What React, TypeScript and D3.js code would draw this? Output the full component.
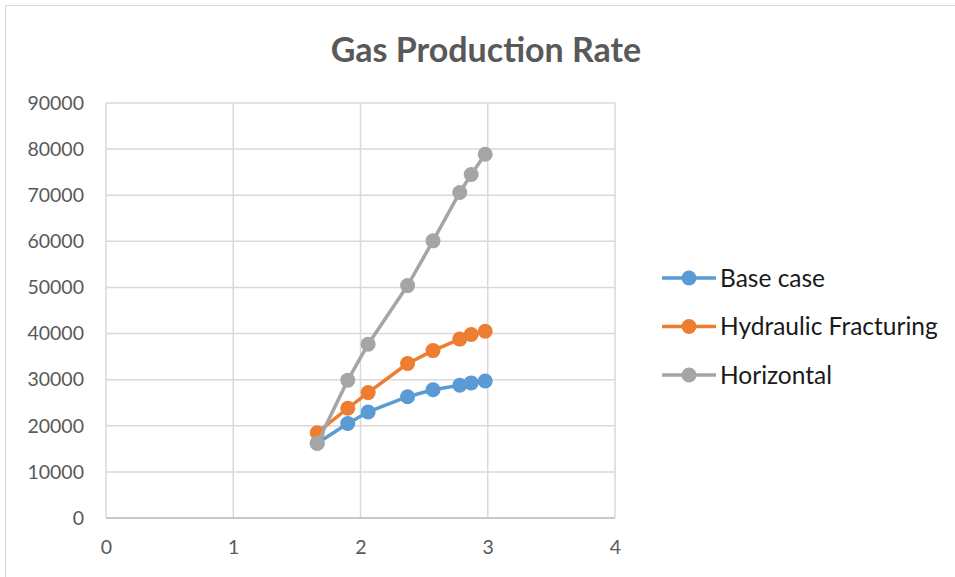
import { axisBottom, axisLeft, line, scaleLinear, select } from "d3";
import { useEffect, useRef } from "react";

const seriesNames = ["Base case", "Hydraulic Fracturing", "Horizontal"];
const seriesColors = ["#5b9bd5", "#ed7d31", "#a5a5a5"];
const xValues = [1.66, 1.9, 2.06, 2.37, 2.57, 2.78, 2.87, 2.98];
const baseCase = [16200, 20500, 23000, 26300, 27800, 28800, 29300, 29700];
const hydraulic = [18500, 23800, 27200, 33500, 36300, 38800, 39800, 40500];
const horizontal = [16200, 29900, 37700, 50400, 60100, 70600, 74500, 78900];
const xTicks = [0, 1, 2, 3, 4];
const yTicks = [0, 10000, 20000, 30000, 40000, 50000, 60000, 70000, 80000, 90000];

const W = 955;
const H = 577;
const font = "Lato, 'Open Sans', sans-serif";

const App = () => {
  const ref = useRef<SVGSVGElement>(null);

  useEffect(() => {
    if (!ref.current) return;
    const svg = select(ref.current);
    svg.selectAll("*").remove();

    svg
      .append("rect")
      .attr("x", 5.5)
      .attr("y", 5.5)
      .attr("width", W + 10)
      .attr("height", H + 10)
      .attr("fill", "white")
      .attr("stroke", "#d9d9d9");

    svg
      .append("text")
      .attr("x", 486)
      .attr("y", 62)
      .attr("text-anchor", "middle")
      .attr("font-family", font)
      .attr("font-size", 34)
      .attr("font-weight", "bold")
      .attr("fill", "#595959")
      .text("Gas Production Rate");

    const xScale = scaleLinear().domain([0, 4]).range([106, 615]);
    const yScale = scaleLinear().domain([0, 90000]).range([518, 103]);

    // grid
    const grid = svg.append("g").attr("stroke", "#d9d9d9").attr("stroke-width", 1.5);
    yTicks.forEach((t) => {
      grid
        .append("line")
        .attr("x1", xScale(0))
        .attr("x2", xScale(4))
        .attr("y1", yScale(t))
        .attr("y2", yScale(t));
    });
    xTicks.forEach((t) => {
      grid
        .append("line")
        .attr("x1", xScale(t))
        .attr("x2", xScale(t))
        .attr("y1", yScale(0))
        .attr("y2", yScale(90000));
    });

    const xAxis = axisBottom(xScale).tickValues(xTicks).tickSize(0).tickPadding(18).tickFormat((d) => String(d));
    const yAxis = axisLeft(yScale).tickValues(yTicks).tickSize(0).tickPadding(22).tickFormat((d) => String(d));

    const gx = svg.append("g").attr("transform", `translate(0,${yScale(0)})`).call(xAxis);
    const gy = svg.append("g").attr("transform", `translate(${xScale(0)},0)`).call(yAxis);
    [gx, gy].forEach((g) => {
      g.select(".domain").remove();
      g.selectAll("text")
        .attr("font-family", font)
        .attr("font-size", 19.5)
        .attr("fill", "#595959");
    });
    gx.selectAll("text").attr("dy", "0.9em");
    svg
      .append("line")
      .attr("x1", xScale(0))
      .attr("x2", xScale(4))
      .attr("y1", yScale(0))
      .attr("y2", yScale(0))
      .attr("stroke", "#bfbfbf")
      .attr("stroke-width", 1.5);

    const allSeries = [baseCase, hydraulic, horizontal];
    const lineGen = line<number>()
      .x((_, i) => xScale(xValues[i]))
      .y((d) => yScale(d));

    allSeries.forEach((vals, si) => {
      const g = svg.append("g");
      g.append("path")
        .attr("d", lineGen(vals))
        .attr("fill", "none")
        .attr("stroke", seriesColors[si])
        .attr("stroke-width", 3.5)
        .attr("stroke-linejoin", "round");
      g.selectAll("circle")
        .data(vals)
        .join("circle")
        .attr("cx", (_, i) => xScale(xValues[i]))
        .attr("cy", (d) => yScale(d))
        .attr("r", 7.5)
        .attr("fill", seriesColors[si]);
    });

    // legend
    const legend = svg.append("g");
    seriesNames.forEach((name, i) => {
      const y = 278 + i * 48.5;
      legend
        .append("line")
        .attr("x1", 662)
        .attr("x2", 716)
        .attr("y1", y)
        .attr("y2", y)
        .attr("stroke", seriesColors[i])
        .attr("stroke-width", 3.5);
      legend.append("circle").attr("cx", 689).attr("cy", y).attr("r", 7.5).attr("fill", seriesColors[i]);
      legend
        .append("text")
        .attr("x", 720)
        .attr("y", y)
        .attr("dy", "0.35em")
        .attr("font-family", font)
        .attr("font-size", 24.5)
        .attr("fill", "#1a1a1a")
        .text(name);
    });
  }, []);

  return (
    <svg
      ref={ref}
      width={W}
      height={H}
      style={{ position: "absolute", left: 0, top: 0, background: "white" }}
    />
  );
};

export default App;
